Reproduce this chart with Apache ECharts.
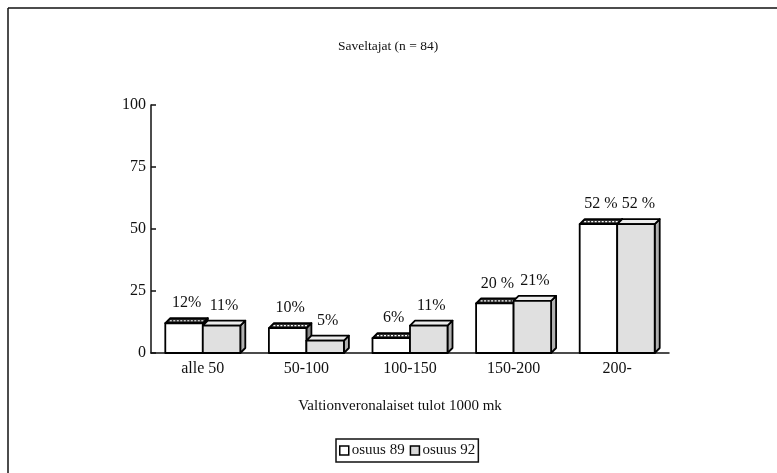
<!DOCTYPE html>
<html>
<head>
<meta charset="utf-8">
<script src="https://cdn.jsdelivr.net/npm/echarts@6/dist/echarts.min.js"></script>
<style>html,body{margin:0;padding:0;background:#fff}#c{width:777px;height:473px}</style>
</head>
<body>
<div id="c"></div>
<script>
var categories = ['alle 50', '50-100', '100-150', '150-200', '200-'];
var values89 = [12, 10, 6, 20, 52];
var values92 = [11, 5, 11, 21, 52];
var labels89 = ['12%', '10%', '6%', '20 %', '52 %'];
var labels92 = ['11%', '5%', '11%', '21%', '52 %'];
var seriesNames = ['osuus 89', 'osuus 92'];
var yTicks = [0, 25, 50, 75, 100];

var FONT = '"Liberation Serif", "DejaVu Serif", serif';
var D = 5;
var RATIO = 0.362;
var styles = [
  { front: '#ffffff', top: '#2a2a2a', side: '#8a8a8a', hatch: true },
  { front: '#e0e0e0', top: '#ececec', side: '#b0b0b0', hatch: false }
];
var allLabels = [labels89, labels92];

function renderItem(params, api) {
  var si = params.seriesIndex;
  var cat = api.value(0), val = api.value(1);
  var top = api.coord([cat, val]);
  var base = api.coord([cat, 0]);
  var band = api.size([1, 0])[0];
  var w = band * RATIO;
  var x0 = si === 0 ? top[0] - w : top[0];
  var x1 = x0 + w;
  var yT = top[1], yB = base[1];
  var st = styles[si];
  var line = { stroke: '#000', lineWidth: 1.8, lineJoin: 'round' };
  var children = [
    { type: 'polygon', shape: { points: [[x1, yT], [x1 + D, yT - D], [x1 + D, yB - D], [x1, yB]] },
      style: Object.assign({ fill: st.side }, line) },
    { type: 'polygon', shape: { points: [[x0, yT], [x0 + D, yT - D], [x1 + D, yT - D], [x1, yT]] },
      style: Object.assign({ fill: st.top }, line) },
    { type: 'rect', shape: { x: x0, y: yT, width: w, height: yB - yT },
      style: Object.assign({ fill: st.front }, line) }
  ];
  if (st.hatch) {
    children.push({ type: 'line', shape: { x1: x0 + D / 2 + 2, y1: yT - D / 2, x2: x1 + D / 2 - 2, y2: yT - D / 2 },
      style: { stroke: '#fff', lineWidth: 1.2, lineDash: [2, 1.5] } });
  }
  children.push({ type: 'text', style: {
    text: allLabels[si][params.dataIndex], x: x0 + (w + D) / 2, y: yT - 20,
    textAlign: 'center', textVerticalAlign: 'middle',
    font: '16px ' + FONT, fill: '#111' } });
  return { type: 'group', children: children };
}

function toData(arr) { return arr.map(function (v, i) { return [i, v]; }); }

var chart = echarts.init(document.getElementById('c'), null, { renderer: 'canvas' });
chart.setOption({
  animation: false,
  backgroundColor: '#fff',
  textStyle: { fontFamily: FONT, color: '#111' },
  title: {
    text: 'Saveltajat (n = 84)', left: 333, top: 34,
    textStyle: { fontFamily: FONT, fontSize: 13.5, fontWeight: 'normal', color: '#111' }
  },
  graphic: [
    { type: 'line', shape: { x1: 8, y1: 8, x2: 777, y2: 8 }, style: { stroke: '#111', lineWidth: 1.5 } },
    { type: 'line', shape: { x1: 8, y1: 8, x2: 8, y2: 473 }, style: { stroke: '#111', lineWidth: 1.5 } }
  ],
  grid: { left: 151, right: 108, top: 105, bottom: 120 },
  xAxis: {
    type: 'category', data: categories, boundaryGap: true,
    axisLine: { lineStyle: { color: '#111', width: 1.5 } },
    axisTick: { inside: true, length: 5, lineStyle: { color: '#111', width: 1.5 } },
    axisLabel: { fontFamily: FONT, fontSize: 16, color: '#111', margin: 8 },
    name: 'Valtionveronalaiset tulot 1000 mk', nameLocation: 'middle', nameGap: 46,
    nameTextStyle: { fontFamily: FONT, fontSize: 15, color: '#111', padding: [0, 20, 0, 0] }
  },
  yAxis: {
    type: 'value', min: yTicks[0], max: yTicks[yTicks.length - 1], interval: 25,
    axisLine: { show: true, lineStyle: { color: '#111', width: 1.5 } },
    axisTick: { show: true, inside: true, length: 5, lineStyle: { color: '#111', width: 1.5 } },
    axisLabel: { fontFamily: FONT, fontSize: 16, color: '#111', margin: 5 },
    splitLine: { show: false }
  },
  legend: {
    left: 336, top: 439,
    data: [
      { name: seriesNames[0], icon: 'rect', itemStyle: { color: '#fff', borderColor: '#000', borderWidth: 1.5 } },
      { name: seriesNames[1], icon: 'rect', itemStyle: { color: '#d8d8d8', borderColor: '#000', borderWidth: 1.5 } }
    ],
    itemWidth: 9, itemHeight: 9, itemGap: 5,
    padding: [4, 3, 4, 3],
    borderColor: '#111', borderWidth: 1.5,
    textStyle: { fontFamily: FONT, fontSize: 15, color: '#111', padding: [0, 0, 0, -2] }
  },
  series: [
    { type: 'custom', name: seriesNames[0], renderItem: renderItem, data: toData(values89),
      itemStyle: { color: '#fff', borderColor: '#000' } },
    { type: 'custom', name: seriesNames[1], renderItem: renderItem, data: toData(values92),
      itemStyle: { color: '#d8d8d8', borderColor: '#000' } }
  ]
});
</script>
</body>
</html>
